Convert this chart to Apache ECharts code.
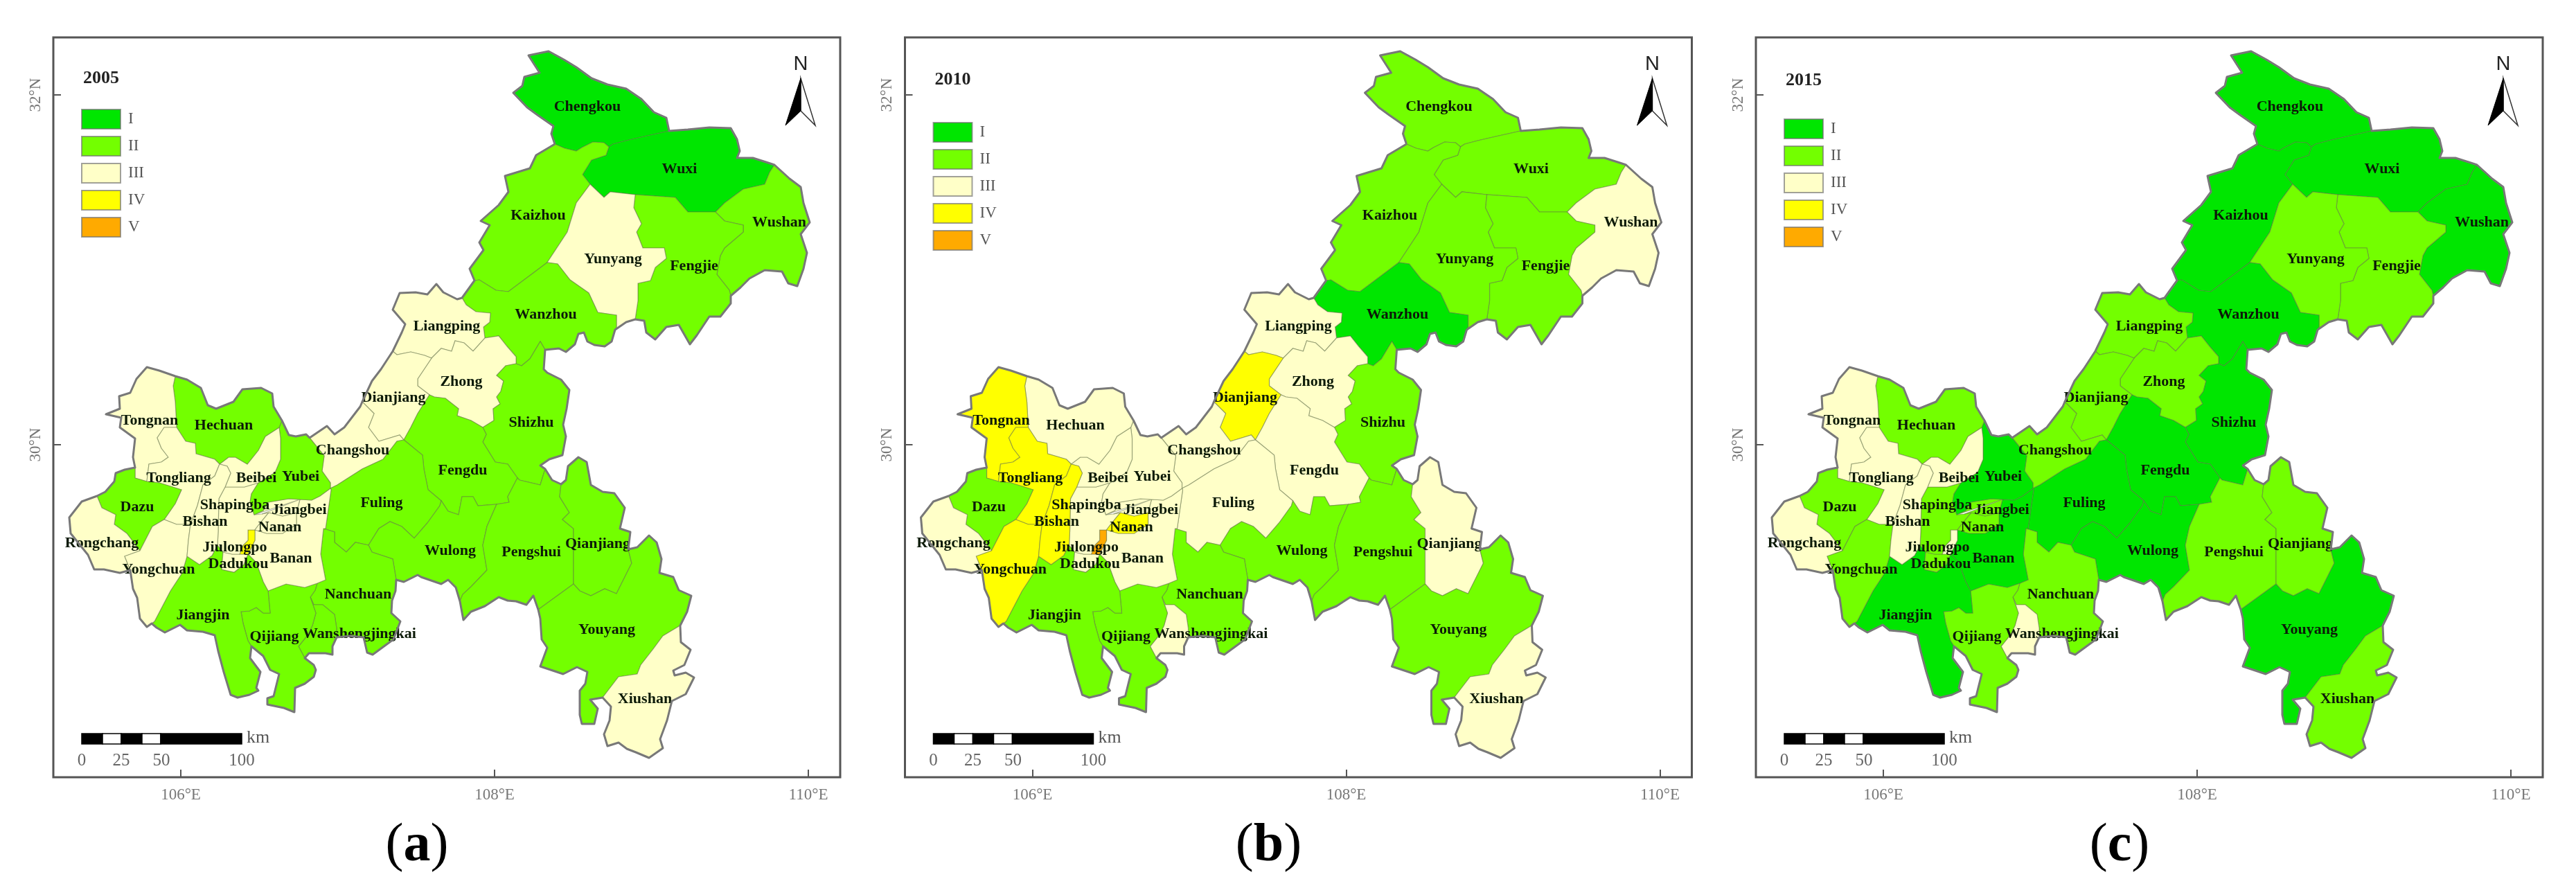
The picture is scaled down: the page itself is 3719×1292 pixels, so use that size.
<!DOCTYPE html>
<html>
<head>
<meta charset="utf-8">
<style>html,body{margin:0;padding:0;background:#fff}#chart{width:3719px;height:1292px}</style>
<script src="https://cdn.jsdelivr.net/npm/echarts@6/dist/echarts.min.js"></script>
</head>
<body>
<div id="chart"></div>
<script>
// ---------- data ----------
const years = [2005, 2010, 2015];
const captions = ['a', 'b', 'c'];
const classLabels = ['I', 'II', 'III', 'IV', 'V'];
const classColors = ['#00E600', '#73FF00', '#FFFFC8', '#FFFF00', '#FFAA00'];
const lonTicks = [106, 108, 110];
const latTicks = [30, 32];
const scaleStops = [0, 25, 50, 100];

const districts = ['Chengkou','Wuxi','Kaizhou','Wushan','Fengjie','Yunyang','Wanzhou','Liangping','Zhong','Dianjiang','Shizhu','Fengdu','Changshou','Fuling','Wulong','Pengshui','Qianjiang','Youyang','Xiushan','Nanchuan','Wanshengjingkai','Qijiang','Banan','Jiangjin','Dadukou','Jiulongpo','Shapingba','Nanan','Jiangbei','Yubei','Beibei','Hechuan','Tongnan','Tongliang','Dazu','Rongchang','Yongchuan','Bishan'];
const class2005 = [1,1,2,2,2,3,2,3,3,3,2,2,3,2,2,2,2,2,3,2,2,2,3,2,3,4,3,3,3,2,3,2,3,3,2,3,3,3];
const class2010 = [2,2,2,3,2,2,1,3,3,4,2,3,3,3,2,2,3,2,3,2,3,2,3,2,3,5,3,4,3,3,3,3,4,4,2,3,4,4];
const class2015 = [1,1,1,1,2,2,1,2,2,2,1,1,2,1,1,2,2,1,2,2,3,2,1,1,2,3,2,2,2,1,3,2,3,3,2,3,2,3];

// Digitised boundaries: shared arcs traced on the picture's grid, georeferenced below.
const arcs = {
O_CK:'801,208 796,193 799,182 776,166 761,155 741,134 754,124 757,111 779,105 763,80 792,74 814,86 832,97 854,113 877,122 904,128 926,143 944,162 962,170 966,189',
O_WX:'966,189 993,187 1024,184 1055,185 1064,201 1068,218 1064,228 1087,228 1109,235 1118,238',
O_WS:'1118,238 1140,258 1156,270 1160,293 1169,321 1156,338 1165,365 1160,388 1151,413 1138,409 1129,392 1104,390 1082,402 1069,415 1055,427',
O_FJ:'1055,427 1055,438 1040,457 1024,457 1006,484 996,497 980,469 962,472 946,490 933,480 930,463 917,461',
O_YY:'917,461 904,465 888,476',
O_WZ1:'888,476 883,493 873,500 858,498 848,493 843,480 835,482 830,497 817,508 807,503 787,505',
O_SZ:'787,505 785,533 790,538 810,548 822,563 818,590 813,613 817,630 812,657 793,663 780,672 787,677',
O_PS1:'787,677 797,693 810,699',
O_QJ:'810,699 817,693 820,673 835,660 847,667 853,700 870,710 887,712 902,733 895,763 910,768 907,793',
O_YO1:'907,793 920,790 937,773 948,783 955,807 952,827 972,833 980,852 998,860 992,883 982,903',
O_XS:'982,903 983,927 997,938 988,960 972,968 974,975 990,971 1002,978 990,1002 970,1012 963,1040 953,1067 957,1080 937,1094 918,1086 905,1081 893,1072 877,1077 872,1060 880,1040 882,1020 870,1007',
O_YO2:'870,1007 852,1010 863,1023 858,1045 840,1045 837,1032 837,997 845,987 848,970 833,963 813,973 780,962 790,935 782,923 780,893 777,880',
O_PS2:'777,880 770,860 760,873 745,868 733,867 720,862 700,875 680,883 669,895 664,868',
O_WL:'664,868 658,848 647,837 637,843 608,833 603,830 583,840 572,837',
O_NC:'572,837 571,853 566,867 565,885 578,897 568,923 538,945 530,942 525,920 506,918 486,920',
O_WA:'486,920 480,933 480,945 470,943 446,943 440,950',
O_QI:'440,950 453,960 456,967 453,977 440,987 426,993 425,1028 410,1022 386,1017 386,1008 395,1005 403,973 390,967 380,947 363,933',
O_JJ:'363,933 361,950 376,970 370,993 373,997 360,1003 343,1007 333,1003 323,970 315,940 310,917 293,912 270,910 260,902 238,913 226,906 219,900',
O_YC:'219,900 212,905 202,893 198,863 192,850 188,823',
O_RC:'188,823 173,827 150,822 136,822 127,801 102,770 100,747 118,724 140,716',
O_DZ:'140,716 152,710 165,695 167,683 180,678 195,675',
O_TN:'195,675 192,660 195,633 173,617 175,603 153,598 173,590 172,572 188,567 197,547 212,530 230,535 253,543',
O_HC:'253,543 270,548 290,560 300,585 312,590 337,580 350,562 377,560 393,568 395,587 407,607',
O_YB:'407,607 417,628 427,630 442,627 447,632',
O_CS:'447,632 472,615 483,627 497,617 520,587 523,580',
O_DJ:'523,580 537,550 550,533 567,507',
O_LP:'567,507 580,480 585,468 567,447 577,423 600,422 617,425 630,410 640,422 660,432 667,430',
O_WZ2:'667,430 685,405',
O_KZ:'685,405 678,388 698,361 692,350 707,325 694,319 720,296 734,277 729,254 765,243 774,224 801,208',
CK_WX:'966,189 930,197 904,203 885,208 879,212',
CK_KZ:'879,212 872,206 856,205 840,213 832,218 815,214 801,208',
WX_KZ:'879,212 875,224 854,231 841,252 852,266',
WX_YY:'852,266 872,285 881,277 917,281',
WX_FJ:'917,281 975,285 993,306 1033,306',
WX_WS:'1033,306 1046,293 1073,273 1104,266 1111,249 1118,238',
FJ_WS:'1033,306 1046,319 1073,325 1073,335 1046,358 1040,369 1035,396 1053,419 1055,427',
KZ_YY:'852,266 832,293 819,335 790,379',
KZ_WZ:'790,379 770,394 734,421 716,419 692,404 685,405',
YY_WZ:'790,379 805,381 823,404 850,423 863,451 890,455 890,472 888,476',
YY_FJ:'917,281 915,300 926,323 919,335 928,358 959,358 962,373 946,386 939,405 921,409 921,434 917,461',
WZ_LP:'667,430 673,440 687,450 708,452 707,465 698,472 700,488',
WZ_ZH:'700,488 720,485 732,500 745,515 745,525',
WZ_SZ:'745,525 753,528 765,518 780,493 787,505',
ZH_SZ:'745,525 730,528 717,542 727,550 723,565 717,573 722,583 712,590 713,607 697,617',
ZH_FD:'697,617 680,607 660,600 662,590 643,575 627,573 620,570',
ZH_DJ:'623,517 603,547 603,557 620,570',
ZH_LP:'700,488 683,507 670,495 657,492 652,507 637,503 623,517',
LP_DJ:'567,507 573,512 593,508 613,513 623,517',
DJ_FD:'620,570 603,597 593,617 583,635',
CS_DJ:'523,580 530,587 540,597 532,617 547,637 577,628 583,635',
CS_FL:'583,635 573,637 553,663 523,677 487,700 477,705',
FL_FD:'583,635 610,657 612,677 618,707 637,723',
FD_SZ:'697,617 702,627 697,638 715,667 733,670 747,690',
SZ_PS:'787,677 780,700 750,693 747,690',
FD_PS:'747,690 733,717 735,725 717,728',
FD_WL:'717,728 690,730 683,717 667,717 662,743 647,738 637,723',
FL_WL:'637,723 635,730 617,755 598,777 580,760 563,753 547,763 532,787',
FL_NC:'532,787 513,783 500,797 483,783 483,768 467,763',
WL_NC:'532,787 537,797 567,807 572,837',
WL_PS:'717,728 703,760 697,787 703,823 680,847 668,858 664,868',
PS_QJ:'810,699 808,717 822,740 812,750 828,763 828,813 828,843',
PS_YO:'828,843 777,880',
QJ_YO:'828,843 837,853 853,860 873,850 890,857 912,813 907,793',
YO_XS:'982,903 957,918 943,937 925,960 920,973 893,977 870,1007',
FL_BN:'467,763 470,763 474,735 478,707 477,705',
BN_NC:'467,763 463,800 470,837 458,842',
BN_QI:'458,842 440,848 413,843 387,853',
QI_NC:'458,842 455,852 448,862',
NC_WA:'448,862 453,873 466,873 483,887 486,907 486,920',
QI_WA:'448,862 456,885 451,903 444,917 431,933 440,950',
QI_JJ:'387,853 390,885 380,885 370,877 360,882 348,883 351,900 358,925 363,933',
BN_JJ:'358,800 370,812 372,818 380,840 387,853',
DD_JJ:'358,800 352,815 338,826 320,822 322,797',
DD_SP:'322,797 335,800 346,800',
DD_JL:'346,800 358,800',
JL_BN:'368,765 368,780 358,800',
JL_SP:'368,765 358,765 358,780 351,787 346,800',
NA_SP:'388,740 374,757 368,765',
NA_BN:'428,740 428,757 408,770 385,770 368,765',
JB_NA:'388,740 408,745 428,740',
JB_BN:'433,721 428,740',
JB_SP:'367,743 378,742 388,740',
YB_JB:'433,721 417,720 387,725 380,737 367,743',
YB_BN:'477,705 462,716 450,722 433,721',
YB_CS:'447,632 468,658 465,680 477,697 477,705',
YB_SP:'373,697 363,713 361,725 367,743',
BB_YB:'403,617 405,633 405,663 397,682 373,697',
BB_SP:'325,703 353,703 373,697',
HC_YB:'407,607 403,617',
HC_BB:'317,670 330,660 340,660 357,670 373,650 383,630 403,617',
HC_TL:'255,617 268,637 282,640 283,655 310,663 317,670',
TN_HC:'253,543 250,557 253,580 255,617',
TN_TL:'255,617 237,617 227,632 233,647 243,660 233,667 215,670 212,695',
DZ_TN:'195,675 195,690 212,695',
DZ_TL:'212,695 230,697 262,707 253,727 237,750',
DZ_YC:'237,750 220,760 202,795',
RC_DZ:'140,716 147,733 167,743 165,757 183,770 202,795',
RC_YC:'202,795 180,803 188,823',
TL_BS:'317,670 310,687 293,700 285,730 275,757',
TL_YC:'275,757 255,757 237,750',
BS_YC:'275,757 272,780 270,803',
YC_JJ:'270,803 263,827 246,853 223,897 219,900',
BS_JJ:'270,803 288,815 306,802 314,787',
JJ_SP:'314,787 322,797',
BS_BB:'317,670 328,673 333,683 325,703',
BS_SP:'325,703 316,720 315,767 314,787'
};
const districtRings = [
'O_CK CK_WX CK_KZ',
'O_WX -WX_WS -WX_FJ -WX_YY -WX_KZ -CK_WX',
'O_KZ -CK_KZ WX_KZ KZ_YY KZ_WZ',
'O_WS -FJ_WS WX_WS',
'O_FJ -YY_FJ WX_FJ FJ_WS',
'O_YY -YY_WZ -KZ_YY WX_YY YY_FJ',
'O_WZ1 -WZ_SZ -WZ_ZH -WZ_LP O_WZ2 -KZ_WZ YY_WZ',
'O_LP WZ_LP ZH_LP -LP_DJ',
'-ZH_LP WZ_ZH ZH_SZ ZH_FD -ZH_DJ',
'O_DJ LP_DJ ZH_DJ DJ_FD -CS_DJ',
'O_SZ SZ_PS -FD_SZ -ZH_SZ WZ_SZ',
'FD_SZ FD_PS FD_WL -FL_FD -DJ_FD -ZH_FD',
'O_CS CS_DJ CS_FL -YB_CS',
'-CS_FL FL_FD FL_WL FL_NC FL_BN',
'-FL_WL -FD_WL WL_PS O_WL -WL_NC',
'O_PS1 PS_QJ PS_YO O_PS2 -WL_PS -FD_PS -SZ_PS',
'O_QJ -QJ_YO -PS_QJ',
'O_YO1 YO_XS O_YO2 -PS_YO QJ_YO',
'O_XS -YO_XS',
'-FL_NC WL_NC O_NC -NC_WA -QI_NC -BN_NC',
'NC_WA O_WA -QI_WA',
'QI_WA O_QI -QI_JJ -BN_QI QI_NC',
'YB_BN JB_BN NA_BN JL_BN BN_JJ -BN_QI -BN_NC FL_BN',
'O_JJ -YC_JJ BS_JJ JJ_SP -DD_JJ BN_JJ QI_JJ',
'DD_JJ DD_SP DD_JL',
'JL_BN -DD_JL -JL_SP',
'BB_SP YB_SP JB_SP NA_SP JL_SP -DD_SP -JJ_SP -BS_SP',
'JB_NA NA_BN -NA_SP',
'-YB_JB JB_SP JB_NA -JB_BN',
'O_YB YB_CS YB_BN YB_JB -YB_SP -BB_YB -HC_YB',
'HC_BB BB_YB -BB_SP -BS_BB',
'O_HC HC_YB -HC_BB -HC_TL -TN_HC',
'O_TN TN_HC TN_TL -DZ_TN',
'-TN_TL HC_TL TL_BS TL_YC -DZ_TL',
'O_DZ DZ_TN DZ_TL DZ_YC -RC_DZ',
'O_RC RC_DZ RC_YC',
'O_YC -RC_YC -DZ_YC -TL_YC BS_YC YC_JJ',
'-TL_BS BS_BB BS_SP -BS_JJ -BS_YC'
];
const outerRing = 'O_CK O_WX O_WS O_FJ O_YY O_WZ1 O_SZ O_PS1 O_QJ O_YO1 O_XS O_YO2 O_PS2 O_WL O_NC O_WA O_QI O_JJ O_YC O_RC O_DZ O_TN O_HC O_YB O_CS O_DJ O_LP O_WZ2 O_KZ';
const labelAnchors = ['848,154','981,244','777,311','1125,321','1002,384','885,374','788,454','645,471','666,551','568,574','767,610','668,679','509,650','551,726','650,795','767,797','863,785','876,909','931,1009','517,858','519,915','396,919','420,806','293,888','344,814','339,790','339,729','404,761','432,736','434,688','370,690','323,614','216,607','258,690','198,732','147,784','229,822','296,753'];

// Georeference of the tracing grid (grid units per degree, and where 106°E / 30°N fall)
const gridLon0 = 261, gridLat0 = 642, gridPerLon = 226.5, gridPerLat = 252.5;
const toLonLat = s => { const [x, y] = s.split(',').map(Number); return [106 + (x - gridLon0) / gridPerLon, 30 + (gridLat0 - y) / gridPerLat]; };

// ---------- layout ----------
const panelDx = [0, 1229.5, 2458];
const frame = {left: 77, right: 1213, top: 54, bottom: 1122};
const legendTops = [158, 177, 172];
const yearTops = [100, 102, 103];
const lonMin = 106 + (frame.left - gridLon0) / gridPerLon;
const lonMax = 106 + (frame.right - gridLon0) / gridPerLon;
const latMax = 30 + (gridLat0 - frame.top) / gridPerLat;
const latMin = 30 + (gridLat0 - frame.bottom) / gridPerLat;
const SERIF = '"Liberation Serif", "Times New Roman", serif';

function ringCoords(ring) {
  const pts = [];
  ring.split(' ').forEach(tok => {
    const rev = tok[0] === '-';
    let p = arcs[rev ? tok.slice(1) : tok].split(' ');
    if (rev) p = p.slice().reverse();
    (pts.length ? p.slice(1) : p).forEach(q => pts.push(toLonLat(q)));
  });
  return pts;
}
const geoJson = {
  type: 'FeatureCollection',
  features: districts.map((name, i) => ({
    type: 'Feature',
    properties: {name, cp: toLonLat(labelAnchors[i])},
    geometry: {type: 'Polygon', coordinates: [ringCoords(districtRings[i])]}
  }))
};
const classSets = [class2005, class2010, class2015];
const outline = ringCoords(outerRing);

const chart = echarts.init(document.getElementById('chart'), null, {renderer: 'canvas'});
const grids = [], xAxes = [], yAxes = [], series = [], outlines = [], visualMaps = [], titles = [], graphics = [];

years.forEach((year, i) => {
  const dx = panelDx[i];
  const mapName = 'Chongqing ' + year;
  echarts.registerMap(mapName, geoJson);
  grids.push({left: frame.left + dx, top: frame.top, width: frame.right - frame.left, height: frame.bottom - frame.top,
    show: true, backgroundColor: 'transparent', borderColor: '#555', borderWidth: 3});
  xAxes.push({type: 'value', gridIndex: i, min: lonMin, max: lonMax, splitLine: {show: false}, axisLine: {show: false},
    axisTick: {show: true, inside: true, length: 11, customValues: lonTicks, lineStyle: {color: '#555', width: 2}},
    axisLabel: {show: true, customValues: lonTicks, formatter: v => v + '°E', margin: 14, color: '#777', fontFamily: SERIF, fontSize: 23}});
  yAxes.push({type: 'value', gridIndex: i, min: latMin, max: latMax, splitLine: {show: false}, axisLine: {show: false},
    axisTick: {show: true, inside: true, length: 11, customValues: latTicks, lineStyle: {color: '#555', width: 2}},
    axisLabel: {show: true, customValues: latTicks, formatter: v => v + '°N', rotate: 90, margin: 14, color: '#777', fontFamily: SERIF, fontSize: 23}});
  series.push({
    type: 'map', map: mapName, name: String(year), roam: false, silent: true,
    left: frame.left + dx, top: frame.top, width: frame.right - frame.left, height: frame.bottom - frame.top,
    aspectScale: gridPerLon / gridPerLat,
    boundingCoords: [[lonMin, latMax], [lonMax, latMin]],
    data: districts.map((name, k) => ({name, value: classSets[i][k]})),
    itemStyle: {borderColor: 'rgba(95,110,70,0.5)', borderWidth: 1.2, areaColor: '#fff'},
    label: {show: true, color: '#0c1a08', fontFamily: SERIF, fontWeight: 'bold', fontSize: 22},
    emphasis: {disabled: true}, select: {disabled: true}, z: 2
  });
  outlines.push({
    type: 'line', xAxisIndex: i, yAxisIndex: i, data: outline, showSymbol: false, symbol: 'none', silent: true,
    lineStyle: {color: '#787878', width: 3, join: 'round'}, z: 3, animation: false, clip: true
  });
  visualMaps.push({
    type: 'piecewise', seriesIndex: i, orient: 'vertical', inverse: true, selectedMode: false, hoverLink: false, align: 'left',
    left: 118 + dx, top: legendTops[i], padding: 0, itemWidth: 56, itemHeight: 28, itemGap: 11, itemSymbol: 'rect', textGap: 11,
    pieces: classLabels.map((label, k) => ({value: k + 1, label, color: classColors[k]})),
    textStyle: {fontFamily: SERIF, fontSize: 23, color: '#555'}
  });
  classLabels.forEach((_, k) => graphics.push({type: 'rect', silent: true, z: 20,
    shape: {x: 118 + dx, y: legendTops[i] + k * 39, width: 56, height: 28},
    style: {fill: 'transparent', stroke: 'rgba(110,110,110,0.65)', lineWidth: 2}}));
  titles.push({text: String(year), left: 120 + dx, top: yearTops[i], padding: 0,
    textStyle: {fontFamily: SERIF, fontWeight: 'bold', fontSize: 26, color: '#222'}});
  titles.push({text: '{p|(}{b|' + captions[i] + '}{p|)}', left: 602 + dx, top: 1183, padding: 0, textAlign: 'center',
    textStyle: {fontWeight: 'normal', rich: {p: {fontFamily: SERIF, fontSize: 78, fontWeight: 'normal', color: '#000'}, b: {fontFamily: SERIF, fontSize: 78, fontWeight: 'bold', color: '#000'}}}});

  // scale bar
  const bar = [[118, 148, '#000'], [148, 175, '#fff'], [175, 205, '#000'], [205, 232, '#fff'], [232, 349, '#000']];
  bar.forEach(b => graphics.push({type: 'rect', silent: true, z: 20, shape: {x: b[0] + dx, y: 1059, width: b[1] - b[0], height: 15},
    style: {fill: b[2], stroke: '#000', lineWidth: 1.5}}));
  const stopX = [118, 175, 233, 349];
  scaleStops.forEach((s, k) => graphics.push({type: 'text', silent: true, z: 20, x: stopX[k] + dx, y: 1098,
    style: {text: String(s), fontFamily: SERIF, fontSize: 25, fill: '#666', align: 'center', verticalAlign: 'middle'}}));
  graphics.push({type: 'text', silent: true, z: 20, x: 356 + dx, y: 1065,
    style: {text: 'km', fontFamily: SERIF, fontSize: 26, fill: '#555', align: 'left', verticalAlign: 'middle'}});

  // north arrow
  graphics.push({type: 'text', silent: true, z: 20, x: 1156 + dx, y: 93,
    style: {text: 'N', fontFamily: '"Liberation Sans", sans-serif', fontSize: 29, fill: '#222', align: 'center', verticalAlign: 'middle'}});
  graphics.push({type: 'polygon', silent: true, z: 20, shape: {points: [[1156 + dx, 113], [1177 + dx, 181], [1156 + dx, 160]]},
    style: {fill: '#fff', stroke: '#333', lineWidth: 1.5}});
  graphics.push({type: 'polygon', silent: true, z: 20, shape: {points: [[1156 + dx, 113], [1134 + dx, 181], [1156 + dx, 160]]},
    style: {fill: '#000', stroke: '#000', lineWidth: 1}});
});

chart.setOption({
  animation: false, backgroundColor: '#fff',
  grid: grids, xAxis: xAxes, yAxis: yAxes,
  title: titles, visualMap: visualMaps,
  series: series.concat(outlines),
  graphic: {elements: graphics}
});
</script>
</body>
</html>
